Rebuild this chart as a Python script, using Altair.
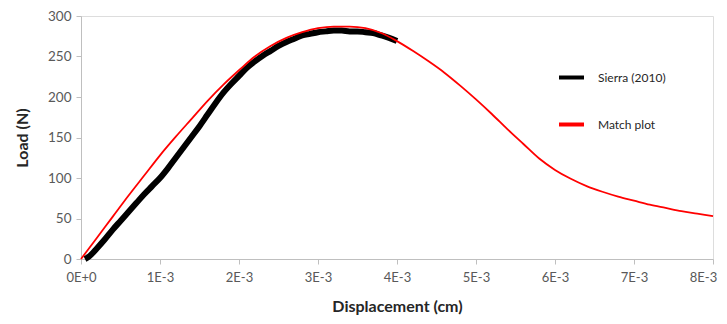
import altair as alt
import pandas as pd

# Sierra (2010) experimental data (displacement in 1E-3 cm, load in N)
sierra_x = [0.05, 0.1, 0.2, 0.3, 0.4, 0.5, 0.6, 0.7, 0.8, 0.9, 1.0, 1.1, 1.2, 1.3, 1.4, 1.5,
            1.6, 1.7, 1.8, 1.9, 2.0, 2.1, 2.2, 2.3, 2.4, 2.5, 2.6, 2.7, 2.8, 2.9, 3.0, 3.1,
            3.2, 3.3, 3.4, 3.5, 3.6, 3.7, 3.8, 3.9, 4.0]
sierra_y = [0, 3, 13, 24, 36, 47, 58, 69, 80, 90, 100, 112, 125, 138, 151, 164,
            178, 192, 205, 216, 226, 236, 244, 251, 257, 263, 268, 272, 276, 278, 280, 281,
            282, 282, 281, 281, 280, 279, 276, 273, 269]

# Match plot (model)
match_x = [0.0, 0.2, 0.4, 0.6, 0.8, 1.0, 1.2, 1.4, 1.6, 1.8, 2.0, 2.2, 2.4, 2.6, 2.8, 3.0,
           3.2, 3.4, 3.6, 3.8, 4.0, 4.2, 4.4, 4.6, 4.8, 5.0, 5.2, 5.4, 5.6, 5.8, 6.0, 6.2,
           6.4, 6.6, 6.8, 7.0, 7.2, 7.4, 7.6, 7.8, 8.0]
match_y = [0, 26, 52, 78, 103, 128, 151, 173, 195, 215, 233, 250, 263, 273, 280, 285,
           287, 287, 285, 279, 269, 257, 244, 230, 214, 197, 179, 160, 142, 124, 110, 99,
           90, 83, 77, 72, 67, 63, 59, 56, 53]

series_names = ["Sierra (2010)", "Match plot"]
series_colors = ["#000000", "#ff0000"]
x_ticks = [0, 0.001, 0.002, 0.003, 0.004, 0.005, 0.006, 0.007, 0.008]
y_ticks = [0, 50, 100, 150, 200, 250, 300]

df_s = pd.DataFrame({"x": [v * 1e-3 for v in sierra_x], "y": sierra_y, "series": series_names[0]})
df_m = pd.DataFrame({"x": [v * 1e-3 for v in match_x], "y": match_y, "series": series_names[1]})

FONT = "Lato"

color = alt.Color(
    "series:N",
    scale=alt.Scale(domain=series_names, range=series_colors),
    legend=alt.Legend(
        title=None, orient="none", legendX=476, legendY=47,
        symbolType="stroke", symbolSize=625, symbolStrokeWidth=4,
        labelFontSize=12, labelFont=FONT, labelColor="#262626",
        labelOffset=12, rowPadding=24,
    ),
)

xenc = alt.X(
    "x:Q",
    scale=alt.Scale(domain=[0, 0.008], nice=False),
    axis=alt.Axis(
        title="Displacement (cm)", values=x_ticks,
        labelExpr="datum.value == 0 ? '0E+0' : format(round(datum.value*1000), 'd') + 'E-3'",
        grid=False, domainColor="#bfbfbf", tickColor="#bfbfbf", tickSize=5,
        labelFont=FONT, labelFontSize=13, labelColor="#595959", labelPadding=7,
        labelFlush=False,
        labelOffset={"condition": {"test": "datum.value > 0.0075", "value": -10}, "value": 0},
        titleFont=FONT, titleFontSize=16, titleFontWeight="bold", titleColor="#262626",
        titlePadding=14,
    ),
)
yenc = alt.Y(
    "y:Q",
    scale=alt.Scale(domain=[0, 300], nice=False),
    axis=alt.Axis(
        title="Load (N)", values=y_ticks, grid=False,
        domainColor="#bfbfbf", tickColor="#bfbfbf", tickSize=5,
        labelFont=FONT, labelFontSize=13.5, labelColor="#595959", labelPadding=5,
        titleFont=FONT, titleFontSize=16, titleFontWeight="bold", titleColor="#262626",
        titlePadding=17,
    ),
)

black = alt.Chart(df_s).mark_line(strokeWidth=6, strokeJoin="round", interpolate="monotone").encode(
    x=xenc, y=yenc, color=color, order="x:Q")
red = alt.Chart(df_m).mark_line(strokeWidth=1.8, interpolate="monotone").encode(
    x=xenc, y=yenc, color=color, order="x:Q")

chart = alt.layer(black, red).properties(
    width=632, height=243,
    autosize=alt.AutoSizeParams(type="none"),
    padding={"left": 73, "top": 8, "right": 6, "bottom": 57},
).configure_view(stroke=None).configure(background="white")

chart.save("out.html", embed_options={"renderer": "svg", "actions": False})
